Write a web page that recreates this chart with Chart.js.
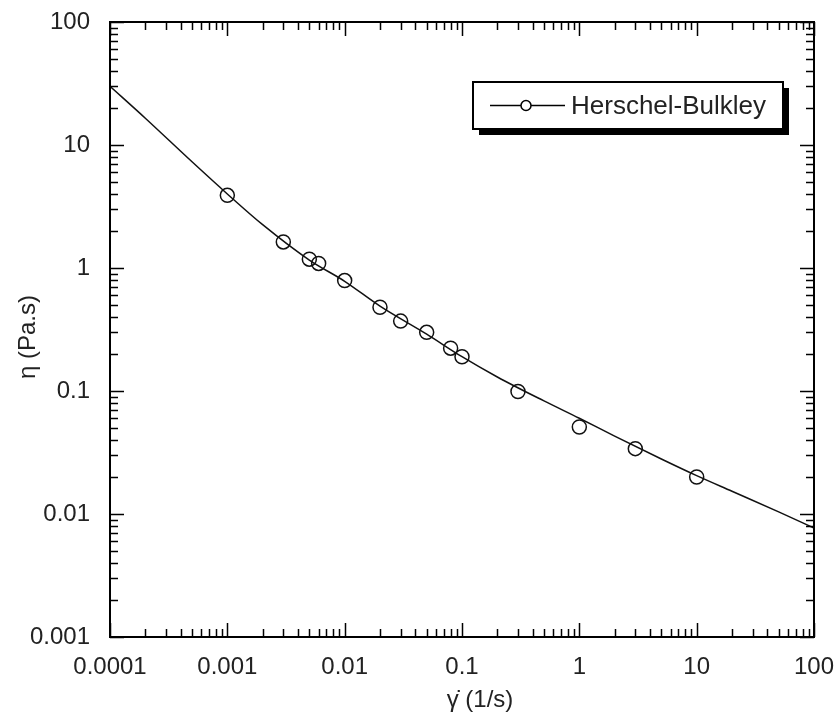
<!DOCTYPE html>
<html>
<head>
<meta charset="utf-8">
<script src="https://cdn.jsdelivr.net/npm/chart.js@4/dist/chart.umd.min.js"></script>
<style>
  html, body { margin: 0; padding: 0; background: #fff; }
  #wrap { width: 838px; height: 717px; }
</style>
</head>
<body>
<div id="wrap"><canvas id="chart" width="838" height="717"></canvas></div>
<script>
// measured points
const pointX = [0.001, 0.003, 0.005, 0.006, 0.01, 0.02, 0.03, 0.05, 0.08, 0.1, 0.3, 1, 3, 10];
const pointY = [3.9, 1.63, 1.18, 1.09, 0.79, 0.48, 0.37, 0.30, 0.223, 0.19, 0.099, 0.051, 0.034, 0.020];

// Herschel-Bulkley fit curve
const curveX = [0.0001, 0.0002, 0.0005, 0.001, 0.002, 0.005, 0.01, 0.02, 0.05, 0.1, 0.2, 0.5, 1, 2, 5, 10, 20, 50, 100];
const curveY = [30, 16.5, 7.3, 4.0, 2.25, 1.16, 0.78, 0.49, 0.29, 0.19, 0.13, 0.083, 0.06, 0.043, 0.028, 0.0205, 0.0153, 0.0104, 0.0077];

const xTicks = [0.0001, 0.001, 0.01, 0.1, 1, 10, 100];
const yTicks = [0.001, 0.01, 0.1, 1, 10, 100];

const legendLabel = 'Herschel-Bulkley';
const xTitle = 'γ̇ (1/s)';
const yTitle = 'η (Pa.s)';

const FONT = 'Arial, "Liberation Sans", sans-serif';

// inward ticks on all four sides, major at decades, minor at 2..9
const frameTicks = {
    id: 'frameTicks',
    afterDraw(chart) {
        const ctx = chart.ctx;
        const { left, right, top, bottom } = chart.chartArea;
        const xs = chart.scales.x, ys = chart.scales.y;
        ctx.save();
        ctx.strokeStyle = '#000';
        ctx.lineWidth = 2;
        ctx.strokeRect(left, top, right - left, bottom - top);
        ctx.lineWidth = 1.5;
        const each = (min, max, fn) => {
            for (let e = Math.floor(Math.log10(min)); e <= Math.ceil(Math.log10(max)); e++) {
                for (let m = 1; m <= 9; m++) {
                    const v = m * Math.pow(10, e);
                    if (v < min * 0.999 || v > max * 1.001) continue;
                    fn(v, m === 1 ? 14 : 8);
                }
            }
        };
        ctx.beginPath();
        each(xs.min, xs.max, (v, len) => {
            const px = Math.round(xs.getPixelForValue(v)) + 0.5;
            ctx.moveTo(px, bottom); ctx.lineTo(px, bottom - len);
            ctx.moveTo(px, top); ctx.lineTo(px, top + len);
        });
        each(ys.min, ys.max, (v, len) => {
            const py = Math.round(ys.getPixelForValue(v)) + 0.5;
            ctx.moveTo(left, py); ctx.lineTo(left + len, py);
            ctx.moveTo(right, py); ctx.lineTo(right - len, py);
        });
        ctx.stroke();

        // axis titles
        ctx.fillStyle = '#222';
        ctx.font = '24px ' + FONT;
        ctx.textAlign = 'center';
        ctx.textBaseline = 'middle';
        ctx.fillText(xTitle, 480, 700);
        ctx.translate(28, 337);
        ctx.rotate(-Math.PI / 2);
        ctx.fillText(yTitle, 0, 0);
        ctx.restore();

        // legend box with drop shadow
        ctx.save();
        const bx = 473, by = 82, bw = 310, bh = 47;
        ctx.fillStyle = '#000';
        ctx.fillRect(bx + 6, by + 6, bw, bh);
        ctx.fillStyle = '#fff';
        ctx.fillRect(bx, by, bw, bh);
        ctx.strokeStyle = '#000';
        ctx.lineWidth = 2;
        ctx.strokeRect(bx, by, bw, bh);
        const ly = by + bh / 2;
        ctx.lineWidth = 1.5;
        ctx.beginPath();
        ctx.moveTo(490, ly); ctx.lineTo(565, ly);
        ctx.stroke();
        ctx.beginPath();
        ctx.arc(526, ly, 5, 0, Math.PI * 2);
        ctx.fillStyle = '#fff';
        ctx.fill();
        ctx.stroke();
        ctx.fillStyle = '#222';
        ctx.font = '26px ' + FONT;
        ctx.textAlign = 'left';
        ctx.textBaseline = 'middle';
        ctx.fillText(legendLabel, 571, ly + 1);
        ctx.restore();
    }
};

new Chart(document.getElementById('chart'), {
    type: 'scatter',
    data: {
        datasets: [
            {
                label: legendLabel + ' fit',
                data: curveX.map((x, i) => ({ x: x, y: curveY[i] })),
                showLine: true,
                borderColor: '#111',
                borderWidth: 1.5,
                pointRadius: 0,
                cubicInterpolationMode: 'monotone'
            },
            {
                label: legendLabel,
                data: pointX.map((x, i) => ({ x: x, y: pointY[i] })),
                showLine: false,
                pointRadius: 7,
                pointBorderWidth: 1.5,
                pointBorderColor: '#111',
                pointBackgroundColor: 'rgba(0,0,0,0)'
            }
        ]
    },
    options: {
        responsive: false,
        animation: false,
        layout: { padding: { top: 22, right: 24, left: 0, bottom: 0 } },
        plugins: { legend: { display: false }, tooltip: { enabled: false } },
        scales: {
            x: {
                type: 'logarithmic',
                min: 0.0001,
                max: 100,
                afterBuildTicks: s => { s.ticks = xTicks.map(v => ({ value: v })); },
                afterFit: s => {
                    s.height = 80;
                    s.paddingLeft = 0;
                    s.paddingRight = 0;
                },
                grid: { display: false, drawTicks: false },
                border: { display: false },
                ticks: {
                    color: '#222',
                    font: { size: 24, family: FONT },
                    padding: 16,
                    maxRotation: 0,
                    autoSkip: false,
                    callback: v => String(v)
                }
            },
            y: {
                type: 'logarithmic',
                min: 0.001,
                max: 100,
                afterBuildTicks: s => { s.ticks = yTicks.map(v => ({ value: v })); },
                afterFit: s => {
                    s.width = 110;
                    s.paddingTop = 0;
                    s.paddingBottom = 0;
                },
                grid: { display: false, drawTicks: false },
                border: { display: false },
                ticks: {
                    color: '#222',
                    font: { size: 24, family: FONT },
                    padding: 20,
                    autoSkip: false,
                    callback: v => String(v)
                }
            }
        }
    },
    plugins: [frameTicks]
});
</script>
</body>
</html>
